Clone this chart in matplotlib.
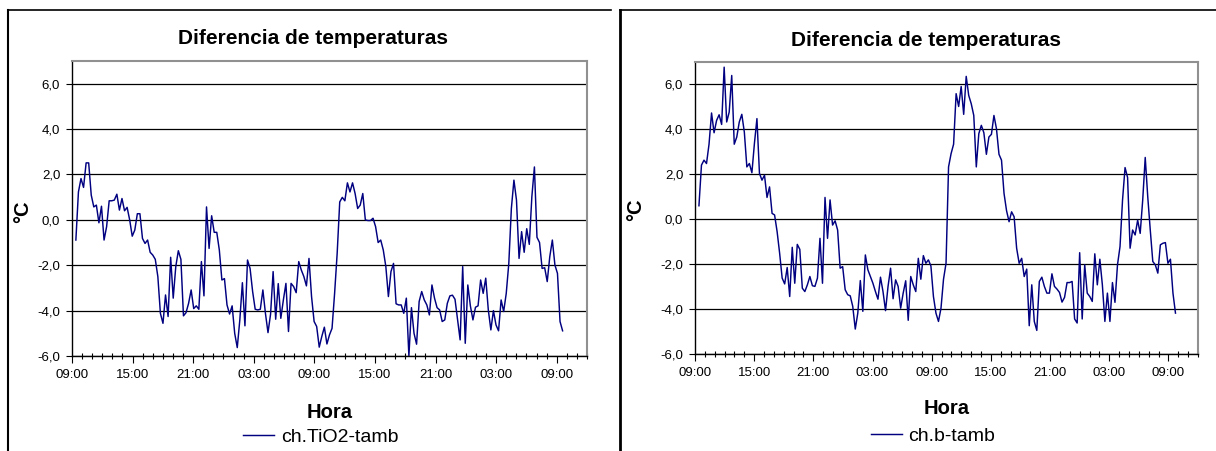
import pandas as pd
import matplotlib
matplotlib.use("Agg")
import matplotlib.pyplot as plt
import matplotlib.dates as mdates
from matplotlib.lines import Line2D
from matplotlib.ticker import FuncFormatter

plt.rcParams["font.family"] = ["Liberation Sans", "DejaVu Sans"]

# ch.TiO2 - tamb, readings roughly every 15 min
tio2_start = "2000-01-01 09:23"
tio2_end = "2000-01-03 09:35"
tio2_values = [
	-0.89, 1.23, 1.82, 1.43, 2.51, 2.51, 1.09, 0.57, 0.65, -0.13,
	0.60, -0.89, -0.30, 0.84, 0.84, 0.87, 1.13, 0.43, 0.94, 0.40,
	0.55, 0.00, -0.72, -0.45, 0.27, 0.27, -0.82, -1.04, -0.89, -1.43,
	-1.55, -1.74, -2.50, -4.12, -4.56, -3.31, -4.26, -1.65, -3.45, -2.06,
	-1.36, -1.74, -4.23, -4.09, -3.68, -3.09, -3.91, -3.79, -3.94, -1.84,
	-3.35, 0.57, -1.26, 0.18, -0.55, -0.55, -1.33, -2.65, -2.59, -3.75,
	-4.15, -3.79, -5.00, -5.63, -4.41, -2.77, -4.67, -1.77, -2.14, -3.16,
	-3.94, -3.97, -3.94, -3.09, -4.12, -4.97, -4.16, -2.28, -4.38, -2.81,
	-4.34, -3.53, -2.80, -4.92, -2.80, -2.94, -3.21, -1.84, -2.21, -2.50,
	-2.91, -1.70, -3.38, -4.48, -4.70, -5.61, -5.14, -4.73, -5.47, -5.07,
	-4.78, -3.24, -1.48, 0.79, 0.99, 0.84, 1.63, 1.23, 1.63, 1.16,
	0.50, 0.65, 1.16, 0.00, -0.03, -0.03, 0.07, -0.30, -1.00, -0.89,
	-1.33, -2.06, -3.38, -2.28, -1.92, -3.70, -3.75, -3.75, -4.12, -3.45,
	-6.00, -3.87, -5.00, -5.48, -3.60, -3.16, -3.53, -3.75, -4.19, -2.87,
	-3.45, -3.87, -3.97, -4.48, -4.41, -3.68, -3.35, -3.32, -3.50, -4.41,
	-5.29, -2.06, -5.44, -2.87, -3.79, -4.41, -3.85, -3.79, -2.65, -3.24,
	-2.57, -3.97, -4.85, -4.00, -4.63, -4.89, -3.53, -4.04, -3.24, -1.92,
	0.50, 1.75, 0.87, -1.70, -0.52, -1.43, -0.39, -1.08, 1.02, 2.33,
	-0.77, -1.00, -2.14, -2.11, -2.72, -1.62, -0.89, -1.99, -2.36, -4.48,
	-4.89,
]

# ch.b - tamb
b_start = "2000-01-01 09:24"
b_end = "2000-01-03 09:43"
b_values = [
	0.60, 2.41, 2.63, 2.48, 3.34, 4.73, 3.85, 4.40, 4.65, 4.22,
	6.77, 4.33, 4.77, 6.40, 3.34, 3.66, 4.33, 4.67, 3.88, 2.33,
	2.48, 2.07, 3.37, 4.48, 2.04, 1.74, 1.96, 0.97, 1.44, 0.26,
	0.19, -0.55, -1.51, -2.62, -2.88, -2.15, -3.44, -1.25, -2.85, -1.12,
	-1.34, -3.07, -3.22, -2.92, -2.55, -2.96, -2.99, -2.62, -0.85, -2.85,
	0.97, -0.85, 0.86, -0.26, -0.07, -0.48, -2.18, -2.11, -3.14, -3.36,
	-3.41, -3.88, -4.89, -4.18, -2.73, -4.10, -1.59, -2.25, -2.55, -2.85,
	-3.22, -3.56, -2.58, -3.22, -4.07, -2.99, -2.18, -3.54, -2.70, -2.99,
	-3.96, -3.29, -2.74, -4.50, -2.55, -2.92, -3.22, -1.74, -2.67, -1.62,
	-1.96, -1.81, -2.08, -3.44, -4.18, -4.55, -3.96, -2.67, -1.96, 2.33,
	2.92, 3.34, 5.59, 5.02, 5.91, 4.67, 6.36, 5.51, 5.14, 4.62,
	2.33, 3.81, 4.18, 3.85, 2.89, 3.66, 3.78, 4.62, 4.03, 2.89,
	2.63, 1.15, 0.38, -0.11, 0.33, 0.11, -1.29, -1.96, -1.74, -2.55,
	-2.22, -4.74, -2.92, -4.55, -4.95, -2.77, -2.58, -2.99, -3.29, -3.29,
	-2.43, -2.99, -3.11, -3.26, -3.69, -3.48, -2.82, -2.82, -2.77, -4.44,
	-4.62, -1.49, -4.44, -2.03, -3.29, -3.44, -3.66, -1.54, -2.92, -1.78,
	-2.92, -4.55, -3.29, -4.55, -2.82, -3.70, -2.03, -1.22, 0.85, 2.30,
	1.86, -1.29, -0.48, -0.70, -0.04, -0.63, 0.85, 2.75, 1.00, -0.48,
	-1.88, -2.03, -2.40, -1.14, -1.07, -1.04, -1.96, -1.78, -3.29, -4.18,
]

axis_start = "2000-01-01 09:00"
axis_hours = 51
y_ticks = [-6, -4, -2, 0, 2, 4, 6]
y_limits = (-6, 7)

title_text = "Diferencia de temperaturas"
x_title = "Hora"
y_title = "°C"

W, H = 1216, 451
NAVY = "#000080"


def fx(px):
	return px / W


def fy(py):
	return 1 - py / H


def plot_panel(fig, box, start, end, values, label, title_xy, hora_xy, ylab_xy, legend_xy):
	left, top, right, bottom = box
	ax = fig.add_axes([fx(left), fy(bottom), fx(right - left), (bottom - top) / H])
	times = pd.date_range(start, end, periods=len(values))
	line, = ax.plot(times, values, color=NAVY, lw=1.05, label=label)

	t0 = pd.Timestamp(axis_start)
	ax.set_xlim(t0, t0 + pd.Timedelta(hours=axis_hours))
	ax.set_ylim(*y_limits)
	ax.set_yticks(y_ticks)
	ax.yaxis.set_major_formatter(FuncFormatter(lambda v, p: f"{v:.1f}".replace(".", ",")))
	ax.xaxis.set_major_locator(mdates.HourLocator(byhour=[3, 9, 15, 21]))
	ax.xaxis.set_minor_locator(mdates.HourLocator())
	ax.xaxis.set_major_formatter(mdates.DateFormatter("%H:%M"))

	ax.yaxis.grid(True, color="black", lw=0.9)
	ax.set_axisbelow(True)
	for side in ("top", "right"):
		ax.spines[side].set_color("#909090")
		ax.spines[side].set_linewidth(1.5)
	for side in ("left", "bottom"):
		ax.spines[side].set_color("black")
		ax.spines[side].set_linewidth(1.0)

	ax.tick_params(axis="y", length=4, width=0.8, pad=4.5, labelsize=9.5)
	ax.tick_params(axis="x", which="major", direction="out", length=5, width=0.8, pad=4, labelsize=9.5)
	ax.tick_params(axis="x", which="minor", direction="inout", length=4, width=0.8)

	fig.text(fx(title_xy[0]), fy(title_xy[1]), title_text, ha="center", va="center",
		fontsize=15, fontweight="bold")
	fig.text(fx(hora_xy[0]), fy(hora_xy[1]), x_title, ha="center", va="center",
		fontsize=14.5, fontweight="bold")
	fig.text(fx(ylab_xy[0]), fy(ylab_xy[1]), y_title, ha="center", va="center",
		fontsize=14.5, fontweight="bold", rotation=90)
	fig.legend(handles=[line], loc="center", bbox_to_anchor=(fx(legend_xy[0]), fy(legend_xy[1])),
		frameon=False, fontsize=14, handlelength=1.6, handletextpad=0.35,
		borderpad=0, borderaxespad=0)
	return ax


def main():
	fig = plt.figure(figsize=(W / 100, H / 100), dpi=100)

	plot_panel(fig, (72, 61, 587, 356), tio2_start, tio2_end, tio2_values, "ch.TiO2-tamb",
		(313, 38), (330, 412), (23, 212), (321, 437))
	plot_panel(fig, (695, 62, 1198, 354), b_start, b_end, b_values, "ch.b-tamb",
		(926, 40), (947, 408), (636, 210), (933, 436))

	# chart frames
	fig.add_artist(Line2D([fx(7.5), fx(7.5)], [fy(10), fy(H)], color="black", lw=1.5))
	fig.add_artist(Line2D([fx(7.5), fx(611)], [fy(10), fy(10)], color="black", lw=1.2))
	fig.add_artist(Line2D([fx(619.5), fx(619.5)], [fy(10), fy(H)], color="black", lw=2.0))
	fig.add_artist(Line2D([fx(619.5), fx(W)], [fy(10), fy(10)], color="black", lw=1.2))

	fig.savefig("out.png", dpi=100)


if __name__ == "__main__":
	main()
